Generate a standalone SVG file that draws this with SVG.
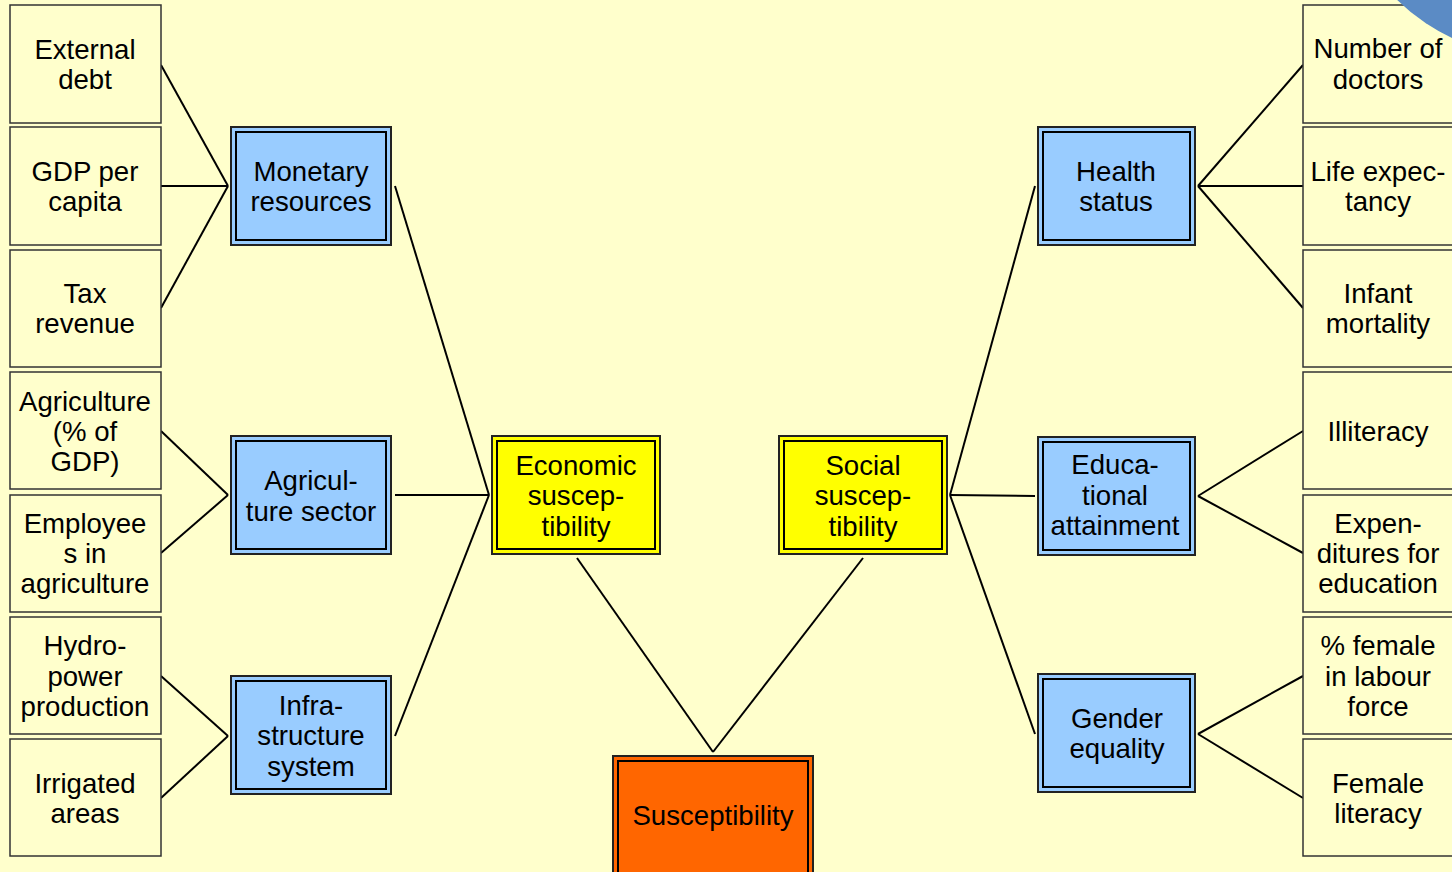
<svg xmlns="http://www.w3.org/2000/svg" width="1452" height="872" viewBox="0 0 1452 872">
  <style>
    text { font-family: "Liberation Sans", Arial, sans-serif; font-size: 27.6px; fill: #000; text-anchor: middle; }
    .leaf rect { fill: #FFFFCC; stroke: #333; stroke-width: 1.5; }
    .outer { stroke: #222; stroke-width: 2; }
    .inner { fill: none; stroke: #000; stroke-width: 2; }
    .blue .outer { fill: #99CCFF; }
    .yellow .outer { fill: #FFFF00; }
    .orange .outer { fill: #FF6600; }
    #connectors line { stroke: #000; stroke-width: 2; }
  </style>
  <rect width="1452" height="872" fill="#FFFFCC"/>

  <g id="connectors">
    <line x1="161" y1="65" x2="228" y2="186"/>
    <line x1="161" y1="186" x2="228" y2="186"/>
    <line x1="161" y1="308" x2="228" y2="186"/>
    <line x1="161" y1="431" x2="228" y2="495"/>
    <line x1="161" y1="553" x2="228" y2="495"/>
    <line x1="161" y1="676" x2="228" y2="736"/>
    <line x1="161" y1="798" x2="228" y2="736"/>
    <line x1="395" y1="186" x2="489" y2="495"/>
    <line x1="395" y1="495" x2="489" y2="495"/>
    <line x1="395" y1="736" x2="489" y2="495"/>
    <line x1="577" y1="558" x2="713" y2="752"/>
    <line x1="863" y1="558" x2="713" y2="752"/>
    <line x1="1035" y1="186" x2="950" y2="495"/>
    <line x1="1035" y1="496" x2="950" y2="495"/>
    <line x1="1035" y1="734" x2="950" y2="495"/>
    <line x1="1198" y1="186" x2="1303" y2="65"/>
    <line x1="1198" y1="186" x2="1303" y2="186"/>
    <line x1="1198" y1="186" x2="1303" y2="308"/>
    <line x1="1198" y1="496" x2="1303" y2="431"/>
    <line x1="1198" y1="496" x2="1303" y2="553"/>
    <line x1="1198" y1="734" x2="1303" y2="676"/>
    <line x1="1198" y1="734" x2="1303" y2="798"/>
  </g>

  <!-- left indicators -->
  <g id="external-debt" class="leaf"><rect x="10" y="5" width="151" height="118"/><text x="85" y="59">External</text><text x="85" y="89">debt</text></g>
  <g id="gdp-per-capita" class="leaf"><rect x="10" y="127" width="151" height="118"/><text x="85" y="181">GDP per</text><text x="85" y="211">capita</text></g>
  <g id="tax-revenue" class="leaf"><rect x="10" y="250" width="151" height="117"/><text x="85" y="303">Tax</text><text x="85" y="333">revenue</text></g>
  <g id="agriculture-gdp" class="leaf"><rect x="10" y="372" width="151" height="117"/><text x="85" y="411">Agriculture</text><text x="85" y="441">(% of</text><text x="85" y="471">GDP)</text></g>
  <g id="employees-agriculture" class="leaf"><rect x="10" y="495" width="151" height="117"/><text x="85" y="533">Employee</text><text x="85" y="563">s in</text><text x="85" y="593">agriculture</text></g>
  <g id="hydropower" class="leaf"><rect x="10" y="617" width="151" height="117"/><text x="85" y="655">Hydro-</text><text x="85" y="686">power</text><text x="85" y="716">production</text></g>
  <g id="irrigated-areas" class="leaf"><rect x="10" y="739" width="151" height="117"/><text x="85" y="793">Irrigated</text><text x="85" y="823">areas</text></g>

  <!-- right indicators -->
  <g id="number-of-doctors" class="leaf"><rect x="1303" y="5" width="160" height="118"/><text x="1378" y="58">Number of</text><text x="1378" y="89">doctors</text></g>
  <g id="life-expectancy" class="leaf"><rect x="1303" y="127" width="160" height="118"/><text x="1378" y="181">Life expec-</text><text x="1378" y="211">tancy</text></g>
  <g id="infant-mortality" class="leaf"><rect x="1303" y="250" width="160" height="117"/><text x="1378" y="303">Infant</text><text x="1378" y="333">mortality</text></g>
  <g id="illiteracy" class="leaf"><rect x="1303" y="372" width="160" height="117"/><text x="1378" y="441">Illiteracy</text></g>
  <g id="education-expenditure" class="leaf"><rect x="1303" y="495" width="160" height="117"/><text x="1378" y="533">Expen-</text><text x="1378" y="563">ditures for</text><text x="1378" y="593">education</text></g>
  <g id="female-labour" class="leaf"><rect x="1303" y="617" width="160" height="117"/><text x="1378" y="655">% female</text><text x="1378" y="686">in labour</text><text x="1378" y="716">force</text></g>
  <g id="female-literacy" class="leaf"><rect x="1303" y="739" width="160" height="117"/><text x="1378" y="793">Female</text><text x="1378" y="823">literacy</text></g>

  <!-- sub-components -->
  <g id="monetary-resources" class="blue"><rect class="outer" x="231" y="127" width="160" height="118"/><rect class="inner" x="236" y="132" width="150" height="108"/><text x="311" y="181">Monetary</text><text x="311" y="211">resources</text></g>
  <g id="agricultural-sector" class="blue"><rect class="outer" x="231" y="436" width="160" height="118"/><rect class="inner" x="236" y="441" width="150" height="108"/><text x="311" y="490">Agricul-</text><text x="311" y="521">ture sector</text></g>
  <g id="infrastructure-system" class="blue"><rect class="outer" x="231" y="676" width="160" height="118"/><rect class="inner" x="236" y="681" width="150" height="108"/><text x="311" y="715">Infra-</text><text x="311" y="745">structure</text><text x="311" y="776">system</text></g>
  <g id="health-status" class="blue"><rect class="outer" x="1038" y="127" width="157" height="118"/><rect class="inner" x="1043" y="132" width="147" height="108"/><text x="1116" y="181">Health</text><text x="1116" y="211">status</text></g>
  <g id="educational-attainment" class="blue"><rect class="outer" x="1038" y="437" width="157" height="118"/><rect class="inner" x="1043" y="442" width="147" height="108"/><text x="1115" y="474">Educa-</text><text x="1115" y="505">tional</text><text x="1115" y="535">attainment</text></g>
  <g id="gender-equality" class="blue"><rect class="outer" x="1038" y="674" width="157" height="118"/><rect class="inner" x="1043" y="679" width="147" height="108"/><text x="1117" y="728">Gender</text><text x="1117" y="758">equality</text></g>

  <!-- components -->
  <g id="economic-susceptibility" class="yellow"><rect class="outer" x="492" y="436" width="168" height="118"/><rect class="inner" x="497" y="441" width="158" height="108"/><text x="576" y="475">Economic</text><text x="576" y="505">suscep-</text><text x="576" y="536">tibility</text></g>
  <g id="social-susceptibility" class="yellow"><rect class="outer" x="779" y="436" width="168" height="118"/><rect class="inner" x="784" y="441" width="158" height="108"/><text x="863" y="475">Social</text><text x="863" y="505">suscep-</text><text x="863" y="536">tibility</text></g>

  <!-- overall index -->
  <g id="susceptibility" class="orange"><rect class="outer" x="613" y="756" width="200" height="130"/><rect class="inner" x="618" y="761" width="190" height="120"/><text x="713" y="825">Susceptibility</text></g>

  <!-- corner ornament, drawn over the top-right box -->
  <circle cx="1537" cy="-143" r="200" fill="#5B8BC5"/>
</svg>
